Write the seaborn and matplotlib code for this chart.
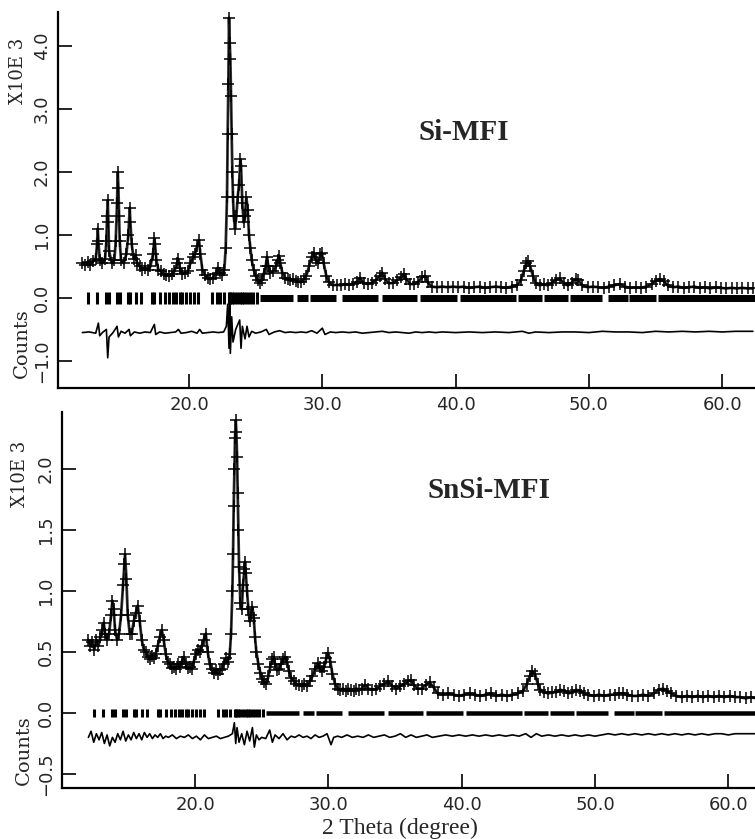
import matplotlib
matplotlib.use("Agg")
import matplotlib.pyplot as plt
import seaborn as sns
import numpy as np
import pandas as pd

# ---------------- data ----------------
# Si-MFI observed profile (2theta, counts x1000)
si_tth = [12.0, 12.2, 12.4, 12.6, 12.8, 13.0, 13.1, 13.15, 13.2, 13.3, 13.5, 13.7, 13.8, 13.85, 13.9, 13.95,
          14.0, 14.2, 14.4, 14.5, 14.6, 14.65, 14.7, 14.75, 14.8, 14.9, 15.1, 15.3, 15.45, 15.55, 15.6, 15.7,
          15.85, 16.0, 16.1, 16.3, 16.5, 16.7, 16.9, 17.1, 17.3, 17.4, 17.45, 17.55, 17.7, 17.9, 18.1, 18.3,
          18.5, 18.7, 18.9, 19.1, 19.2, 19.3, 19.5, 19.7, 19.9, 20.1, 20.3, 20.45, 20.6, 20.75, 20.85, 21.0,
          21.2, 21.4, 21.6, 21.8, 22.0, 22.15, 22.3, 22.5, 22.65, 22.75, 22.85, 22.9, 22.95, 23.0, 23.05, 23.1,
          23.15, 23.2, 23.25, 23.3, 23.35, 23.45, 23.55, 23.65, 23.75, 23.85, 23.9, 24.0, 24.1, 24.2, 24.3, 24.4,
          24.5, 24.6, 24.7, 24.85, 25.0, 25.15, 25.3, 25.45, 25.6, 25.75, 25.85, 25.95, 26.1, 26.3, 26.5, 26.65,
          26.75, 26.85, 27.0, 27.2, 27.4, 27.6, 27.8, 28.0, 28.2, 28.4, 28.6, 28.8, 29.0, 29.2, 29.35, 29.5,
          29.7, 29.85, 29.95, 30.1, 30.3, 30.5, 30.8, 31.1, 31.4, 31.7, 32.0, 32.3, 32.6, 32.85, 33.1, 33.4,
          33.7, 34.0, 34.3, 34.5, 34.7, 35.0, 35.3, 35.6, 35.9, 36.1, 36.3, 36.6, 36.9, 37.2, 37.5, 37.7,
          37.9, 38.2, 38.6, 39.0, 39.4, 39.8, 40.2, 40.6, 41.0, 41.4, 41.8, 42.2, 42.6, 43.0, 43.4, 43.8,
          44.2, 44.6, 44.9, 45.1, 45.3, 45.45, 45.6, 45.8, 46.0, 46.3, 46.6, 46.9, 47.2, 47.5, 47.8, 48.1,
          48.4, 48.7, 49.0, 49.2, 49.5, 49.9, 50.3, 50.7, 51.1, 51.5, 51.9, 52.3, 52.7, 53.1, 53.5, 53.9,
          54.3, 54.7, 55.0, 55.3, 55.6, 55.9, 56.3, 56.7, 57.1, 57.5, 57.9, 58.3, 58.7, 59.1, 59.5, 59.9,
          60.3, 60.7, 61.1, 61.5, 61.9, 62.3]
si_obs = [0.55, 0.52, 0.57, 0.53, 0.58, 0.62, 0.85, 1.1, 0.9, 0.6, 0.55, 0.62, 0.9, 1.3, 1.55, 1.2,
          0.75, 0.55, 0.6, 0.9, 1.5, 2.0, 1.75, 1.3, 0.9, 0.6, 0.55, 0.7, 1.0, 1.43, 1.2, 0.85,
          0.62, 0.68, 0.55, 0.5, 0.45, 0.48, 0.44, 0.5, 0.7, 0.95, 0.85, 0.6, 0.45, 0.42, 0.38, 0.36,
          0.35, 0.38, 0.42, 0.55, 0.62, 0.48, 0.38, 0.4, 0.42, 0.55, 0.65, 0.7, 0.82, 0.92, 0.7, 0.45,
          0.36, 0.32, 0.3, 0.32, 0.38, 0.48, 0.4, 0.36, 0.45, 0.8, 1.6, 2.6, 3.4, 4.45, 4.05, 3.8,
          3.2, 2.6, 2.0, 1.6, 1.3, 1.1, 1.3, 1.6, 1.8, 2.2, 2.1, 1.5, 1.2, 1.3, 1.6, 1.4,
          1.0, 0.8, 0.6, 0.45, 0.35, 0.28, 0.24, 0.28, 0.38, 0.5, 0.65, 0.5, 0.4, 0.42, 0.5, 0.6,
          0.67, 0.55, 0.4, 0.32, 0.3, 0.28, 0.3, 0.27, 0.26, 0.25, 0.3, 0.35, 0.5, 0.65, 0.72, 0.6,
          0.55, 0.7, 0.72, 0.55, 0.35, 0.25, 0.2, 0.21, 0.2, 0.22, 0.21, 0.22, 0.26, 0.32, 0.24, 0.22,
          0.24, 0.28, 0.35, 0.4, 0.3, 0.23, 0.24, 0.28, 0.33, 0.38, 0.3, 0.22, 0.22, 0.26, 0.33, 0.35,
          0.25, 0.18, 0.17, 0.18, 0.17, 0.18, 0.17, 0.18, 0.16, 0.17, 0.18, 0.16, 0.17, 0.18, 0.17, 0.16,
          0.18, 0.2, 0.28, 0.42, 0.55, 0.58, 0.5, 0.35, 0.24, 0.2, 0.22, 0.2, 0.24, 0.28, 0.31, 0.24,
          0.2, 0.24, 0.3, 0.28, 0.2, 0.17, 0.18, 0.17, 0.16, 0.18, 0.2, 0.22, 0.18, 0.16, 0.17, 0.16,
          0.18, 0.22, 0.27, 0.3, 0.27, 0.2, 0.17, 0.18, 0.16, 0.17, 0.18, 0.16, 0.17, 0.15, 0.17, 0.16,
          0.15, 0.16, 0.15, 0.16, 0.15, 0.15]

# Si-MFI difference curve
si_dtth = [12.0, 12.5, 13.0, 13.2, 13.3, 13.5, 13.8, 13.9, 14.0, 14.3, 14.6, 14.7, 14.9, 15.2, 15.5, 15.6,
           15.9, 16.3, 16.7, 17.1, 17.4, 17.5, 17.8, 18.2, 18.6, 19.0, 19.2, 19.4, 19.8, 20.2, 20.6, 20.8,
           21.0, 21.4, 21.8, 22.2, 22.6, 22.8, 22.9, 23.0, 23.05, 23.1, 23.2, 23.3, 23.5, 23.8, 23.9, 24.0,
           24.2, 24.35, 24.5, 24.7, 25.0, 25.4, 25.8, 26.0, 26.4, 26.8, 27.2, 27.6, 28.0, 28.4, 28.8, 29.2,
           29.6, 30.0, 30.2, 30.6, 31.0, 31.5, 32.0, 32.5, 33.0, 33.5, 34.0, 34.5, 35.0, 35.5, 36.0, 36.5,
           37.0, 37.5, 38.0, 38.5, 39.0, 40.0, 41.0, 42.0, 43.0, 44.0, 45.0, 45.5, 46.0, 47.0, 48.0, 49.0,
           50.0, 51.0, 52.0, 53.0, 54.0, 55.0, 56.0, 57.0, 58.0, 59.0, 60.0, 61.0, 62.3]
si_diff = [-0.55, -0.54, -0.56, -0.4, -0.6, -0.55, -0.5, -0.95, -0.62, -0.55, -0.45, -0.62, -0.53, -0.56, -0.5, -0.6,
           -0.54, -0.56, -0.54, -0.55, -0.42, -0.58, -0.54, -0.56, -0.55, -0.54, -0.5, -0.56, -0.55, -0.53, -0.56, -0.5,
           -0.56, -0.55, -0.54, -0.55, -0.54, -0.45, -0.1, -0.8, -0.05, -0.88, -0.3, -0.7, -0.5, -0.35, -0.8, -0.45,
           -0.65, -0.45, -0.62, -0.53, -0.56, -0.54, -0.5, -0.58, -0.54, -0.52, -0.55, -0.54, -0.55, -0.54, -0.55, -0.52,
           -0.56, -0.48, -0.58, -0.54, -0.55, -0.54, -0.55, -0.54, -0.56, -0.55, -0.54, -0.53, -0.55, -0.54, -0.55, -0.56,
           -0.54, -0.55, -0.54, -0.55, -0.54, -0.55, -0.54, -0.55, -0.54, -0.55, -0.53, -0.56, -0.54, -0.55, -0.54, -0.54,
           -0.55, -0.53, -0.54, -0.54, -0.55, -0.53, -0.54, -0.53, -0.54, -0.53, -0.54, -0.53, -0.53]

# SnSi-MFI observed profile
sn_tth = [12.0, 12.15, 12.3, 12.45, 12.6, 12.75, 12.9, 13.05, 13.15, 13.25, 13.4, 13.55, 13.7, 13.8, 13.9, 14.0,
          14.15, 14.3, 14.45, 14.6, 14.7, 14.75, 14.85, 14.95, 15.1, 15.25, 15.4, 15.55, 15.7, 15.85, 16.0, 16.15,
          16.3, 16.45, 16.6, 16.75, 16.9, 17.05, 17.2, 17.35, 17.5, 17.65, 17.8, 17.95, 18.1, 18.25, 18.4, 18.55,
          18.7, 18.85, 19.0, 19.15, 19.3, 19.45, 19.6, 19.75, 19.9, 20.05, 20.2, 20.35, 20.5, 20.65, 20.8, 20.95,
          21.1, 21.25, 21.4, 21.55, 21.7, 21.85, 22.0, 22.15, 22.3, 22.45, 22.6, 22.7, 22.8, 22.85, 22.9, 22.95,
          23.0, 23.05, 23.1, 23.15, 23.2, 23.25, 23.3, 23.4, 23.5, 23.6, 23.7, 23.75, 23.8, 23.9, 24.0, 24.1,
          24.2, 24.3, 24.4, 24.5, 24.6, 24.75, 24.9, 25.05, 25.2, 25.35, 25.5, 25.65, 25.8, 25.9, 26.0, 26.15,
          26.3, 26.45, 26.6, 26.75, 26.9, 27.05, 27.2, 27.4, 27.6, 27.8, 28.0, 28.2, 28.4, 28.6, 28.8, 29.0,
          29.2, 29.35, 29.5, 29.7, 29.85, 30.0, 30.15, 30.3, 30.5, 30.7, 30.9, 31.1, 31.3, 31.5, 31.7, 31.9,
          32.1, 32.3, 32.5, 32.75, 33.0, 33.3, 33.6, 33.9, 34.2, 34.5, 34.8, 35.1, 35.4, 35.7, 36.0, 36.2,
          36.4, 36.7, 37.0, 37.3, 37.6, 37.9, 38.2, 38.6, 39.0, 39.4, 39.8, 40.2, 40.6, 41.0, 41.4, 41.8,
          42.2, 42.6, 43.0, 43.4, 43.8, 44.2, 44.6, 44.9, 45.1, 45.3, 45.5, 45.7, 45.9, 46.2, 46.5, 46.8,
          47.1, 47.4, 47.7, 48.0, 48.3, 48.6, 48.9, 49.2, 49.5, 49.9, 50.3, 50.7, 51.1, 51.5, 51.8, 52.1,
          52.4, 52.8, 53.2, 53.6, 54.0, 54.4, 54.8, 55.1, 55.4, 55.7, 56.1, 56.5, 56.9, 57.3, 57.7, 58.1,
          58.5, 58.9, 59.3, 59.7, 60.1, 60.5, 60.9, 61.3, 61.7, 62.1]
sn_obs = [0.6, 0.55, 0.58, 0.52, 0.6, 0.55, 0.62, 0.68, 0.74, 0.65, 0.6, 0.65, 0.8, 0.92, 0.85, 0.68,
          0.6, 0.65, 0.8, 1.05, 1.22, 1.3, 1.1, 0.8, 0.65, 0.65, 0.75, 0.82, 0.88, 0.75, 0.6, 0.52,
          0.5, 0.46, 0.44, 0.47, 0.45, 0.48, 0.55, 0.62, 0.68, 0.6, 0.48, 0.42, 0.4, 0.37, 0.38, 0.36,
          0.4, 0.38, 0.42, 0.46, 0.4, 0.37, 0.38, 0.36, 0.42, 0.48, 0.52, 0.5, 0.55, 0.6, 0.65, 0.5,
          0.4, 0.36, 0.33, 0.35, 0.32, 0.35, 0.36, 0.4, 0.45, 0.42, 0.48, 0.65, 1.0, 1.3, 1.7, 2.0,
          2.25, 2.4, 2.3, 2.1, 1.8, 1.5, 1.2, 0.9, 0.85, 1.05, 1.18, 1.24, 1.15, 1.0, 0.85, 0.75,
          0.8, 0.87, 0.78, 0.62, 0.5, 0.4, 0.33, 0.28, 0.25, 0.24, 0.3, 0.38, 0.44, 0.46, 0.4, 0.35,
          0.36, 0.4, 0.44, 0.46, 0.42, 0.34, 0.29, 0.26, 0.24, 0.23, 0.22, 0.24, 0.22, 0.26, 0.3, 0.36,
          0.41, 0.38, 0.34, 0.38, 0.45, 0.49, 0.42, 0.32, 0.24, 0.2, 0.19, 0.2, 0.18, 0.2, 0.19, 0.18,
          0.2, 0.19, 0.2, 0.23, 0.2, 0.19, 0.2, 0.22, 0.24, 0.26, 0.22, 0.2, 0.22, 0.24, 0.26, 0.27,
          0.23, 0.2, 0.2, 0.23, 0.25, 0.21, 0.16, 0.15, 0.16, 0.15, 0.14, 0.15, 0.16, 0.15, 0.14, 0.15,
          0.16, 0.14, 0.15, 0.14, 0.15, 0.16, 0.18, 0.24, 0.3, 0.34, 0.32, 0.24, 0.19, 0.17, 0.16, 0.17,
          0.17, 0.19, 0.18, 0.16, 0.17, 0.19, 0.18, 0.16, 0.15, 0.14, 0.15, 0.14, 0.15, 0.15, 0.16, 0.16,
          0.15, 0.14, 0.14, 0.15, 0.14, 0.16, 0.19, 0.2, 0.18, 0.16, 0.14, 0.13, 0.14, 0.13, 0.14, 0.13,
          0.14, 0.13, 0.14, 0.13, 0.14, 0.13, 0.13, 0.12, 0.13, 0.12]

# SnSi-MFI difference curve
sn_dtth = [12.0, 12.2, 12.4, 12.6, 12.8, 13.0, 13.2, 13.4, 13.6, 13.8, 14.0, 14.2, 14.4, 14.6, 14.8, 15.0,
           15.2, 15.4, 15.6, 15.8, 16.0, 16.2, 16.4, 16.6, 16.8, 17.0, 17.2, 17.4, 17.6, 17.8, 18.0, 18.3,
           18.6, 18.9, 19.2, 19.5, 19.8, 20.1, 20.4, 20.7, 21.0, 21.3, 21.6, 21.9, 22.2, 22.5, 22.8, 22.95,
           23.05, 23.15, 23.3, 23.5, 23.7, 23.9, 24.1, 24.3, 24.45, 24.6, 24.8, 25.0, 25.3, 25.6, 25.8, 26.0,
           26.3, 26.6, 26.9, 27.2, 27.5, 27.8, 28.1, 28.4, 28.7, 29.0, 29.3, 29.6, 29.9, 30.2, 30.4, 30.7,
           31.0, 31.4, 31.8, 32.2, 32.6, 33.0, 33.4, 33.8, 34.2, 34.6, 35.0, 35.4, 35.8, 36.2, 36.6, 37.0,
           37.4, 37.8, 38.3, 38.8, 39.3, 39.8, 40.3, 40.8, 41.3, 41.8, 42.3, 42.8, 43.3, 43.8, 44.3, 44.8,
           45.2, 45.6, 46.0, 46.5, 47.0, 47.5, 48.0, 48.5, 49.0, 49.5, 50.0, 50.5, 51.0, 51.5, 52.0, 52.5,
           53.0, 53.5, 54.0, 54.5, 55.0, 55.5, 56.0, 56.5, 57.0, 57.5, 58.0, 58.5, 59.0, 59.5, 60.0, 60.5,
           61.0, 61.5, 62.1]
sn_diff = [-0.2, -0.15, -0.24, -0.17, -0.22, -0.16, -0.25, -0.18, -0.27, -0.2, -0.24, -0.17, -0.22, -0.15, -0.23, -0.18,
           -0.22, -0.16, -0.21, -0.17, -0.22, -0.16, -0.2, -0.17, -0.21, -0.18, -0.2, -0.17, -0.21, -0.19, -0.2, -0.18,
           -0.21, -0.19, -0.2, -0.18, -0.21, -0.19, -0.22, -0.18, -0.21, -0.2, -0.19, -0.21, -0.2, -0.19, -0.17, -0.08,
           -0.25, -0.12, -0.24, -0.17, -0.26, -0.15, -0.23, -0.12, -0.28, -0.18, -0.22, -0.2, -0.21, -0.14, -0.24, -0.18,
           -0.21, -0.17, -0.22, -0.19, -0.2, -0.18, -0.2, -0.19, -0.21, -0.18, -0.2, -0.19, -0.17, -0.26, -0.2, -0.19,
           -0.2, -0.18, -0.2, -0.19, -0.2, -0.18, -0.2, -0.19, -0.18, -0.2, -0.19, -0.17, -0.2, -0.18, -0.2, -0.19,
           -0.18, -0.2, -0.19, -0.18, -0.19, -0.18, -0.19, -0.18, -0.19, -0.18, -0.19, -0.18, -0.19, -0.18, -0.19, -0.17,
           -0.2, -0.17, -0.19, -0.18, -0.19, -0.18, -0.19, -0.18, -0.19, -0.18, -0.19, -0.18, -0.17, -0.18, -0.17, -0.18,
           -0.17, -0.18, -0.17, -0.18, -0.17, -0.18, -0.17, -0.18, -0.17, -0.18, -0.17, -0.18, -0.17, -0.17, -0.18, -0.17,
           -0.17, -0.17, -0.17]

# reflection positions (2theta): isolated marks and continuous runs
refl_marks = [12.4, 13.1, 13.8, 14.0, 14.6, 14.8, 15.4, 15.6, 16.0, 16.4, 17.2, 17.4, 17.8, 18.2, 18.5,
              18.8, 19.0, 19.3, 19.5, 19.8, 20.1, 20.4, 20.7, 21.7, 22.1, 22.3, 22.6, 23.0, 23.1, 23.25,
              23.4, 23.6, 23.8, 23.95, 24.1, 24.35, 24.6, 24.8, 25.1]
refl_runs_start = [25.3, 28.1, 29.1, 31.5, 34.5, 37.3, 40.3, 44.7, 46.6, 48.6, 51.4, 53.0, 55.2]
refl_runs_end = [27.8, 28.9, 31.0, 34.2, 37.1, 40.1, 44.5, 46.5, 48.4, 51.0, 52.9, 55.0, 62.5]

panel_names = ["Si-MFI", "SnSi-MFI"]
top_yticks = [-1.0, 0.0, 1.0, 2.0, 3.0, 4.0]
bot_yticks = [-0.5, 0.0, 0.5, 1.0, 1.5, 2.0]
xticks = [20.0, 30.0, 40.0, 50.0, 60.0]

# ---------------- drawing ----------------
sns.set_style("ticks")
plt.rcParams["font.family"] = ["DejaVu Sans"]

W, H = 755, 839
fig = plt.figure(figsize=(W / 100, H / 100), dpi=100)

ax1 = fig.add_axes([58 / W, 1 - 388 / H, 1 - 58 / W, 376 / H])
ax2 = fig.add_axes([62 / W, 1 - 788 / H, 1 - 62 / W, 376 / H])

panels = [
    (ax1, si_tth, si_obs, si_dtth, si_diff, top_yticks, (10.17, 62.46), (-1.43, 4.54), (37.2, 2.62), 7),
    (ax2, sn_tth, sn_obs, sn_dtth, sn_diff, bot_yticks, (10.02, 62.0), (-0.615, 2.467), (37.4, 1.82), 4.5),
]

for i, (ax, tth, obs, dtth, diff, yt, xl, yl, lab, rh) in enumerate(panels):
    obs_df = pd.DataFrame({"tth": tth, "obs": obs})
    diff_df = pd.DataFrame({"tth": dtth, "diff": diff})
    # calculated profile and observed "+" markers
    sns.lineplot(data=obs_df, x="tth", y="obs", ax=ax, color="#333333", lw=2.0,
                 estimator=None, sort=False)
    sns.lineplot(data=obs_df, x="tth", y="obs", ax=ax, color="black", lw=0.6,
                 estimator=None, sort=False, marker="+", markersize=8,
                 markeredgewidth=1.1, markeredgecolor="black")
    sns.lineplot(data=diff_df, x="tth", y="diff", ax=ax, color="black", lw=1.2,
                 estimator=None, sort=False)
    refl_df = pd.DataFrame({"tth": refl_marks, "y": [0.0] * len(refl_marks)})
    sns.scatterplot(data=refl_df, x="tth", y="y", ax=ax, marker="|", s=rh * 9,
                    color="black", linewidth=2.2)
    ax.hlines([0.0] * len(refl_runs_start), refl_runs_start, refl_runs_end,
              colors="black", lw=rh * 0.72)

    ax.set_xlim(*xl)
    ax.set_ylim(*yl)
    ax.set_xticks(xticks)
    ax.set_xticklabels([f"{v:.1f}" for v in xticks], fontsize=13)
    ax.set_yticks(yt)
    ax.set_yticklabels([f"{v:.1f}".replace("-", "\u2212") for v in yt], fontsize=13,
                       rotation=90, va="center")
    ax.tick_params(direction="in", length=10, width=1.2, pad=5, color="black")
    ax.tick_params(axis="x", pad=6)
    for s in ["top", "right"]:
        ax.spines[s].set_visible(False)
    for s in ["left", "bottom"]:
        ax.spines[s].set_linewidth(1.6)
        ax.spines[s].set_color("black")
    ax.set_xlabel("")
    ax.set_ylabel("")

    ax.text(lab[0], lab[1], panel_names[i], fontsize=21, fontweight="bold",
            family=["Liberation Serif", "DejaVu Serif"], ha="left", va="center")

# side labels
fig.text(18 / W, 1 - 71 / H, "X10E 3", rotation=90, ha="center", va="center",
         fontsize=13, family=["DejaVu Serif"])
fig.text(22 / W, 1 - 343 / H, "Counts", rotation=90, ha="center", va="center",
         fontsize=14, family=["DejaVu Serif"])
fig.text(20 / W, 1 - 474 / H, "X10E 3", rotation=90, ha="center", va="center",
         fontsize=13, family=["DejaVu Serif"])
fig.text(24 / W, 1 - 750 / H, "Counts", rotation=90, ha="center", va="center",
         fontsize=14, family=["DejaVu Serif"])

fig.text(400 / W, 1 - 828 / H, "2 Theta (degree)", ha="center", va="center",
         fontsize=17, family=["Liberation Serif", "DejaVu Serif"])

fig.savefig("out.png", dpi=100)
